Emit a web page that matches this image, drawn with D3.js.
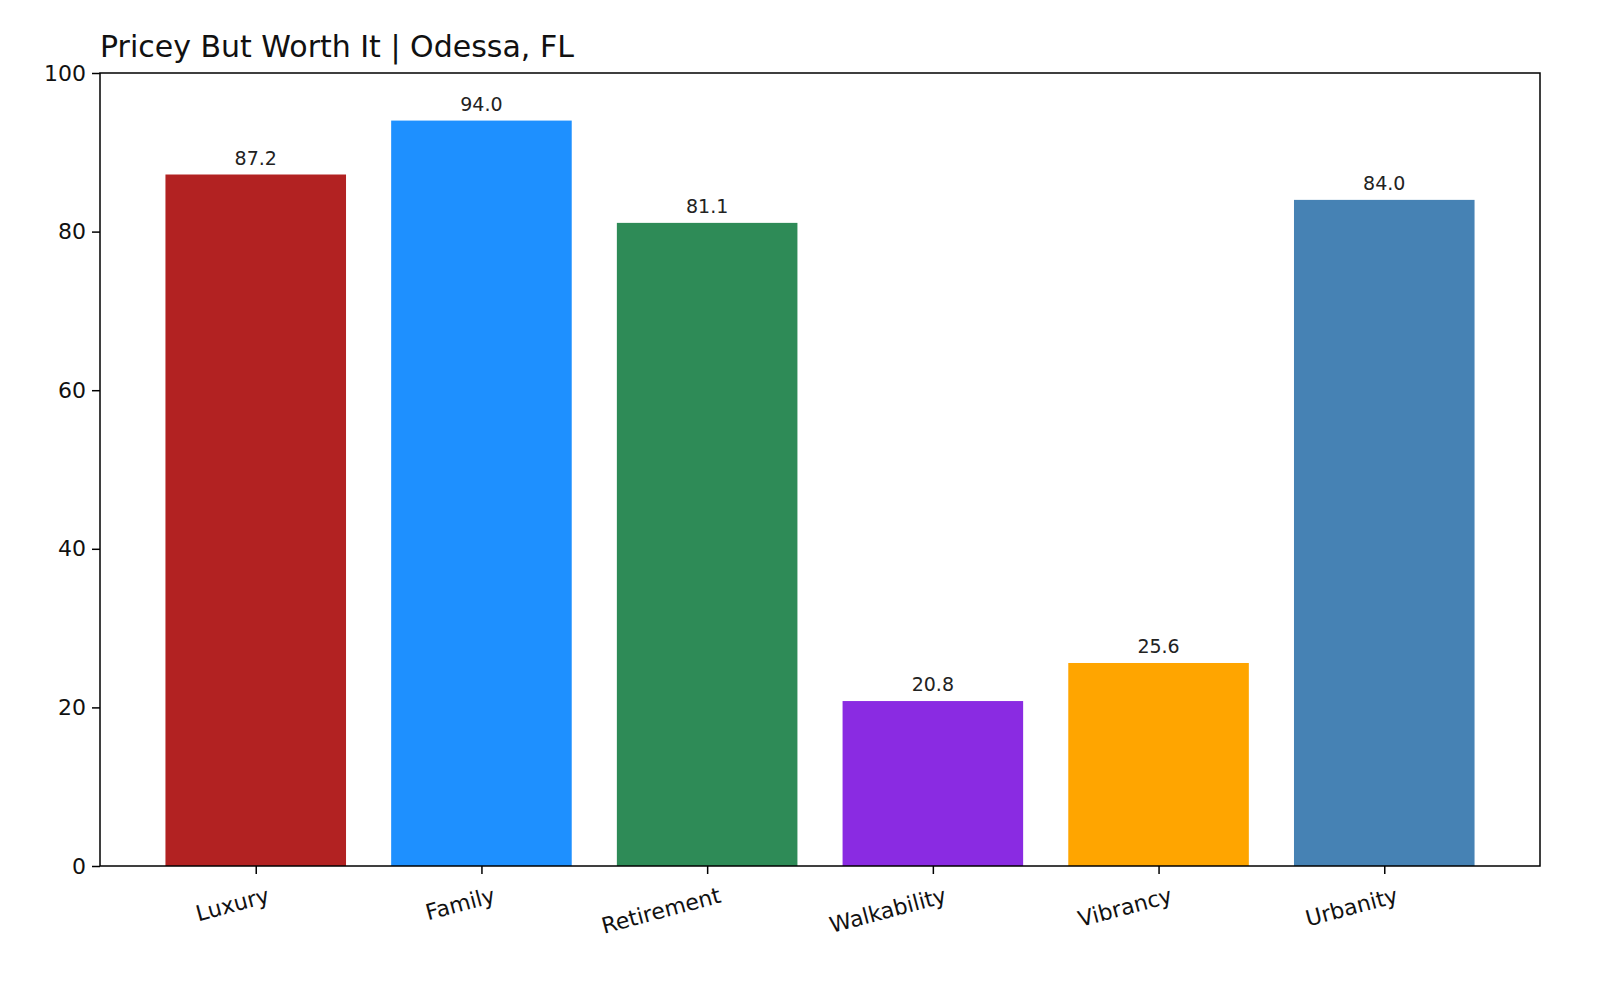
<!DOCTYPE html>
<html><head><meta charset="utf-8">
<script src="https://cdn.jsdelivr.net/npm/d3@7"></script>
<style>body{margin:0;background:#fff}text{font-family:"DejaVu Sans",sans-serif}</style>
</head><body>
<svg id="c" width="1600" height="1000"></svg>
<script>
const categories = ["Luxury","Family","Retirement","Walkability","Vibrancy","Urbanity"];
const values = [87.2,94.0,81.1,20.8,25.6,84.0];
const colors = ["#b22222","#1e90ff","#2e8b57","#8a2be2","#ffa500","#4682b4"];
const yTicks = [0,20,40,60,80,100];
const title = "Pricey But Worth It | Odessa, FL";

const svg = d3.select("#c");
const L=100,R=1540,T=73,B=866;
const x = d3.scaleLinear().domain([-0.69,5.69]).range([L,R]);
const y = d3.scaleLinear().domain([0,100]).range([B,T]);
const bw = x(0.8)-x(0);

svg.selectAll("rect.bar").data(values).enter().append("rect")
  .attr("x",(d,i)=>x(i)-bw/2).attr("y",d=>y(d))
  .attr("width",bw).attr("height",d=>B-y(d))
  .attr("fill",(d,i)=>colors[i]);

svg.selectAll("text.val").data(values).enter().append("text")
  .attr("x",(d,i)=>x(i)).attr("y",d=>y(d)-10)
  .attr("text-anchor","middle").attr("font-size",19).attr("fill","#222")
  .text(d=>d.toFixed(1));

const ya = svg.append("g").attr("transform",`translate(${L},0)`)
  .call(d3.axisLeft(y).tickValues(yTicks).tickSize(8).tickPadding(6));
ya.selectAll("text").attr("font-size",22).attr("fill","#111");
const xa = svg.append("g").attr("transform",`translate(0,${B})`)
  .call(d3.axisBottom(x).tickValues(d3.range(categories.length)).tickFormat(i=>categories[i]).tickSize(8));
xa.selectAll("text").attr("font-size",22).attr("fill","#111")
  .attr("text-anchor","end").attr("transform","translate(0,8) rotate(-15)").attr("dx","0.3em").attr("dy","0.9em");
[ya,xa].forEach(a=>{a.select(".domain").remove();a.selectAll("line").attr("stroke","#000").attr("stroke-width",1.5);});

svg.append("rect").attr("x",L).attr("y",T).attr("width",R-L).attr("height",B-T)
  .attr("fill","none").attr("stroke","#000").attr("stroke-width",1.5);

svg.append("text").attr("x",L).attr("y",57).attr("font-size",30).attr("fill","#111").text(title);
</script>
</body></html>
